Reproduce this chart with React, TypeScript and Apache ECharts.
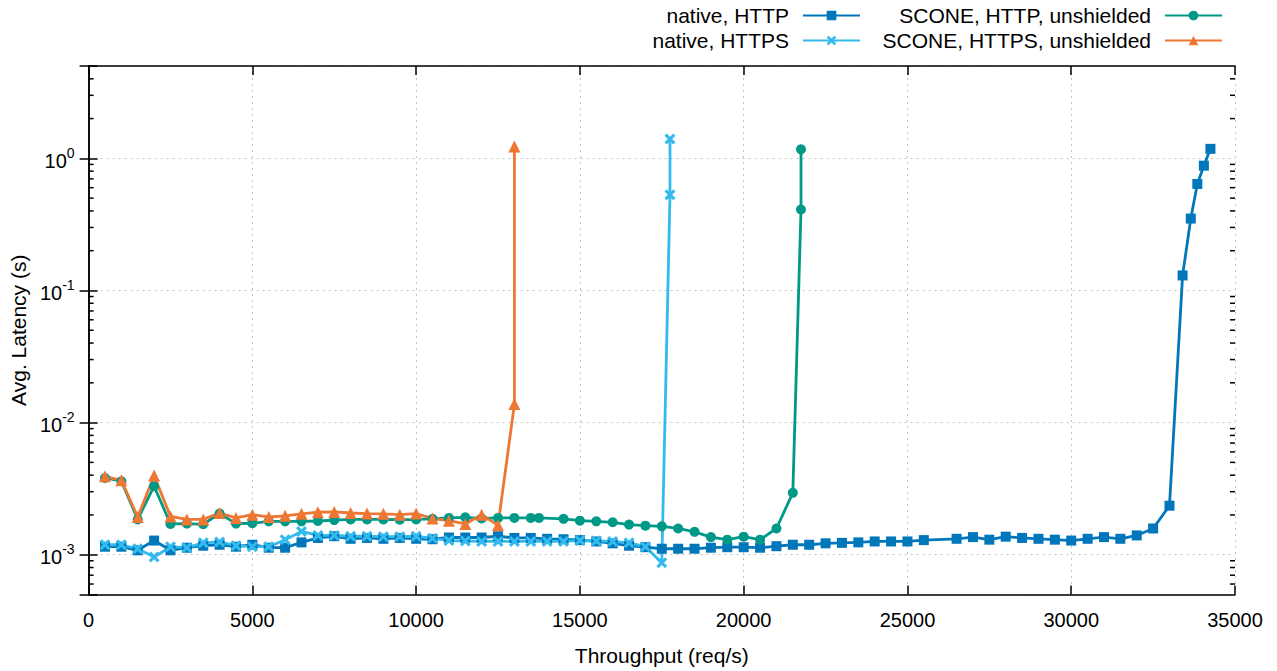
import React, { useEffect, useRef } from "react";
import * as echarts from "echarts";

// Throughput (req/s) and average latency (s) for each configuration
const nativeHttpX = [500, 1000, 1500, 2000, 2500, 3000, 3500, 4000, 4500, 5000, 5500, 6000, 6500, 7000, 7500, 8000, 8500, 9000, 9500, 10000, 10500, 11000, 11500, 12000, 12500, 13000, 13500, 14000, 14500, 15000, 15500, 16000, 16500, 17000, 17500, 18000, 18500, 19000, 19500, 20000, 20500, 21000, 21500, 22000, 22500, 23000, 23500, 24000, 24500, 25000, 25500, 26500, 27000, 27500, 28000, 28500, 29000, 29500, 30000, 30500, 31000, 31500, 32000, 32500, 33000, 33400, 33650, 33850, 34050, 34250];
const nativeHttpY = [0.00115, 0.00115, 0.00108, 0.00128, 0.00108, 0.00113, 0.00117, 0.00119, 0.00115, 0.00119, 0.00113, 0.00113, 0.00124, 0.00134, 0.00138, 0.00132, 0.00134, 0.00132, 0.00134, 0.00132, 0.00131, 0.00135, 0.00135, 0.00135, 0.00138, 0.00134, 0.00134, 0.00132, 0.00131, 0.00129, 0.00126, 0.00122, 0.00117, 0.00114, 0.00111, 0.00111, 0.00111, 0.00113, 0.00114, 0.00114, 0.00113, 0.00116, 0.00119, 0.00119, 0.00122, 0.00123, 0.00124, 0.00126, 0.00126, 0.00126, 0.00129, 0.00132, 0.00136, 0.0013, 0.00137, 0.00134, 0.00132, 0.0013, 0.00128, 0.00132, 0.00136, 0.00132, 0.0014, 0.00158, 0.00235, 0.13, 0.35, 0.64, 0.88, 1.18];

const nativeHttpsX = [500, 1000, 1500, 2000, 2500, 3000, 3500, 4000, 4500, 5000, 5500, 6000, 6500, 7000, 7500, 8000, 8500, 9000, 9500, 10000, 10500, 11000, 11500, 12000, 12500, 13000, 13500, 14000, 14500, 15000, 15500, 16000, 16500, 17000, 17500, 17750, 17750];
const nativeHttpsY = [0.00119, 0.00119, 0.00111, 0.00096, 0.00115, 0.00113, 0.00123, 0.00125, 0.00117, 0.00115, 0.00115, 0.0013, 0.0015, 0.0014, 0.0014, 0.00138, 0.00138, 0.00137, 0.00137, 0.00138, 0.00133, 0.00128, 0.00127, 0.00126, 0.00126, 0.00126, 0.00126, 0.00126, 0.00126, 0.00128, 0.00127, 0.00126, 0.00123, 0.00115, 0.00087, 0.53, 1.4];

const sconeHttpX = [500, 1000, 1500, 2000, 2500, 3000, 3500, 4000, 4500, 5000, 5500, 6000, 6500, 7000, 7500, 8000, 8500, 9000, 9500, 10000, 10500, 11000, 11500, 12000, 12500, 13000, 13500, 13750, 14500, 15000, 15500, 16000, 16500, 17000, 17500, 18000, 18500, 19000, 19500, 20000, 20500, 21000, 21500, 21750, 21750];
const sconeHttpY = [0.00381, 0.0036, 0.00185, 0.0033, 0.00171, 0.00172, 0.0017, 0.00205, 0.00172, 0.00173, 0.00179, 0.00179, 0.00179, 0.0018, 0.00183, 0.00185, 0.00185, 0.00185, 0.00184, 0.00185, 0.00187, 0.0019, 0.00192, 0.00188, 0.0019, 0.0019, 0.0019, 0.0019, 0.00187, 0.00181, 0.00179, 0.00176, 0.00169, 0.00166, 0.00164, 0.00158, 0.00149, 0.00136, 0.0013, 0.00137, 0.0013, 0.00158, 0.00294, 0.41, 1.17];

const sconeHttpsX = [500, 1000, 1500, 2000, 2500, 3000, 3500, 4000, 4500, 5000, 5500, 6000, 6500, 7000, 7500, 8000, 8500, 9000, 9500, 10000, 10500, 11000, 11500, 12000, 12500, 13000, 13000];
const sconeHttpsY = [0.00392, 0.00366, 0.00193, 0.00397, 0.00195, 0.00185, 0.00185, 0.00207, 0.0019, 0.00201, 0.00193, 0.00197, 0.00204, 0.0021, 0.00211, 0.00207, 0.00205, 0.00204, 0.00201, 0.00205, 0.00188, 0.00181, 0.00171, 0.00201, 0.00167, 0.0138, 1.23];

const xTicks = [0, 5000, 10000, 15000, 20000, 25000, 30000, 35000];
const yMinorTicks = [0.0006, 0.0007, 0.0008, 0.0009, 0.002, 0.003, 0.004, 0.005, 0.006, 0.007, 0.008, 0.009, 0.02, 0.03, 0.04, 0.05, 0.06, 0.07, 0.08, 0.09, 0.2, 0.3, 0.4, 0.5, 0.6, 0.7, 0.8, 0.9, 2, 3, 4];

const FONT = "Liberation Sans, Arial, sans-serif";
const crossPath = "path://M0,2 L2,0 L5,3 L8,0 L10,2 L7,5 L10,8 L8,10 L5,7 L2,10 L0,8 L3,5 Z";

function pairs(xs: number[], ys: number[]) {
  return xs.map((x, i) => [x, ys[i]]);
}

function yLabel(v: number) {
  const e = Math.log10(v);
  const r = Math.round(e);
  if (Math.abs(e - r) > 1e-6) return "";
  return "{b|10}{s|" + r + "}";
}

export default function App() {
  const ref = useRef<HTMLDivElement>(null);
  useEffect(() => {
    document.body.style.margin = "0";
    const chart = echarts.init(ref.current!, null, { renderer: "svg" });
    const lineSeries = (name: string, xs: number[], ys: number[], color: string, symbol: string, size: number) => ({
      name,
      type: "line",
      data: pairs(xs, ys),
      symbol,
      symbolSize: size,
      showAllSymbol: true,
      lineStyle: { color, width: 2.8 },
      itemStyle: { color },
      z: 3,
    });
    const legendCommon = {
      orient: "vertical",
      align: "right",
      top: 5,
      padding: 0,
      itemWidth: 57,
      itemHeight: 12,
      itemGap: 4,
      textStyle: { fontFamily: FONT, fontSize: 21, color: "#000", padding: [0, 9, 0, 0] },
    };
    const option: any = {
      animation: false,
      backgroundColor: "#fff",
      textStyle: { fontFamily: FONT },
      legend: [
        { ...legendCommon, right: 416, data: ["native, HTTP", "native, HTTPS"] },
        { ...legendCommon, right: 54, data: ["SCONE, HTTP, unshielded", "SCONE, HTTPS, unshielded"] },
      ],
      grid: { left: 87, right: 42, top: 66, bottom: 76.5, containLabel: false },
      xAxis: [
        {
          type: "value",
          min: xTicks[0],
          max: xTicks[xTicks.length - 1],
          interval: xTicks[1] - xTicks[0],
          name: "Throughput (req/s)",
          nameLocation: "middle",
          nameGap: 50,
          nameTextStyle: { fontFamily: FONT, fontSize: 21, color: "#000" },
          axisLine: { lineStyle: { color: "#000", width: 1.5 } },
          axisTick: { inside: true, length: 9, lineStyle: { color: "#000", width: 1.5 } },
          axisLabel: { margin: 15, fontFamily: FONT, fontSize: 20, color: "#000", formatter: (v: number) => String(v) },
          splitLine: { show: true, lineStyle: { color: "#c4c4c4", type: [2, 4], width: 1 } },
        },
        {
          type: "value",
          position: "top",
          min: xTicks[0],
          max: xTicks[xTicks.length - 1],
          interval: xTicks[1] - xTicks[0],
          axisLine: { show: true, lineStyle: { color: "#000", width: 1.5 } },
          axisTick: { show: true, inside: true, length: 9, lineStyle: { color: "#000", width: 1.5 } },
          axisLabel: { show: false },
          splitLine: { show: false },
        },
      ],
      yAxis: [
        {
          type: "log",
          logBase: 10,
          min: 0.0005,
          max: 5,
          name: "Avg. Latency (s)",
          nameLocation: "middle",
          nameGap: 57,
          nameTextStyle: { fontFamily: FONT, fontSize: 21, color: "#000" },
          axisLine: { show: true, lineStyle: { color: "#000", width: 1.5 } },
          axisTick: { show: true, inside: true, length: 9, lineStyle: { color: "#000", width: 1.5 } },
          axisLabel: {
            margin: 14,
            formatter: yLabel,
            rich: {
              b: { fontFamily: FONT, fontSize: 20, color: "#000", lineHeight: 25, verticalAlign: "bottom" },
              s: { fontFamily: FONT, fontSize: 14, color: "#000", lineHeight: 25, verticalAlign: "top" },
            },
          },
          splitLine: { show: true, lineStyle: { color: "#c4c4c4", type: [2, 4], width: 1 } },
          minorTick: { show: false },
        },
        {
          type: "log",
          logBase: 10,
          min: 0.0005,
          max: 5,
          position: "right",
          axisLine: { show: true, lineStyle: { color: "#000", width: 1.5 } },
          axisTick: { show: true, inside: true, length: 9, lineStyle: { color: "#000", width: 1.5 } },
          axisLabel: { show: false },
          splitLine: { show: false },
        },
      ],
      series: [
        {
          name: "minor ticks",
          type: "custom",
          silent: true,
          z: 1,
          data: yMinorTicks.map((v) => [0, v]),
          renderItem: (params: any, api: any) => {
            const p = api.coord([0, api.value(1)]);
            const cs = params.coordSys;
            const st = { stroke: "#000", lineWidth: 1.5 };
            return {
              type: "group",
              children: [
                { type: "line", shape: { x1: cs.x, y1: p[1], x2: cs.x + 5, y2: p[1] }, style: st },
                { type: "line", shape: { x1: cs.x + cs.width, y1: p[1], x2: cs.x + cs.width - 5, y2: p[1] }, style: st },
              ],
            };
          },
        },
        lineSeries("native, HTTP", nativeHttpX, nativeHttpY, "#0077BB", "rect", 10),
        lineSeries("native, HTTPS", nativeHttpsX, nativeHttpsY, "#33BBEE", crossPath, 11),
        lineSeries("SCONE, HTTP, unshielded", sconeHttpX, sconeHttpY, "#009988", "circle", 10),
        lineSeries("SCONE, HTTPS, unshielded", sconeHttpsX, sconeHttpsY, "#EE7733", "triangle", 12),
      ],
    };
    chart.setOption(option);
    return () => chart.dispose();
  }, []);
  return <div ref={ref} style={{ position: "absolute", left: 0, top: 0, width: 1277, height: 671 }} />;
}
